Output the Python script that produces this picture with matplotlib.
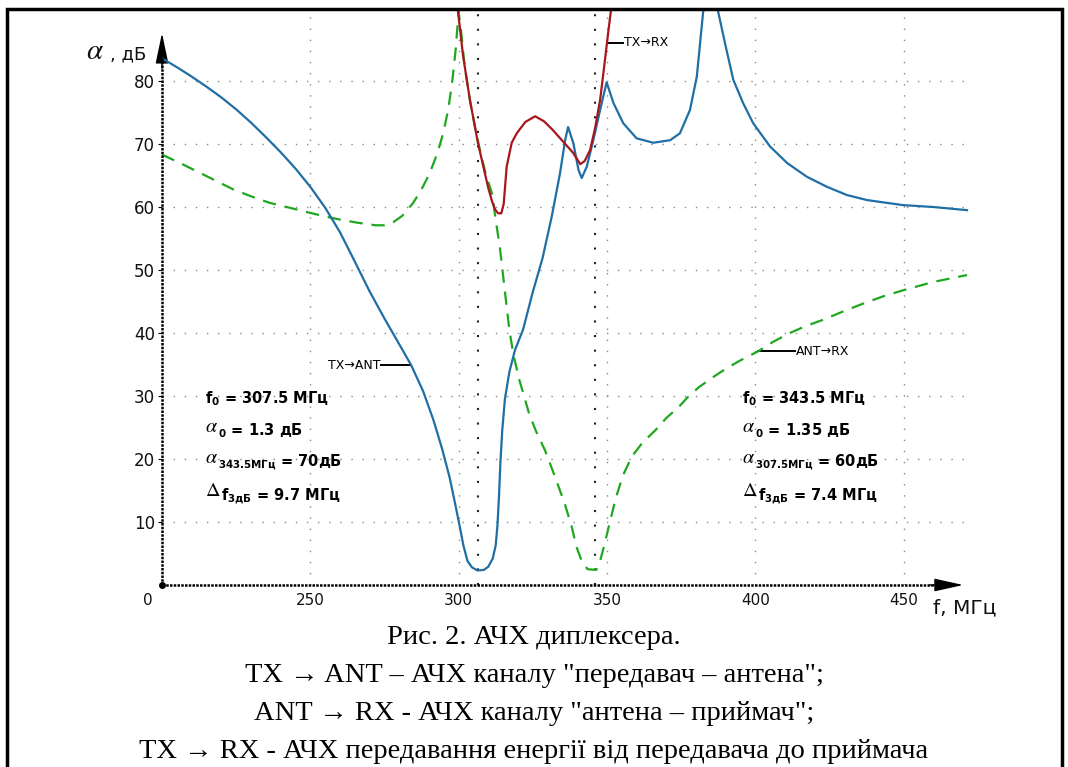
import matplotlib
matplotlib.use('Agg')
import matplotlib.pyplot as plt
from matplotlib.patches import Rectangle

# TX -> ANT channel (blue)
tx_ant_f = [200, 205, 210, 215, 220, 225, 230, 235, 240, 245, 250, 255, 260, 264.4, 270, 275,
            280, 284, 288, 291.5, 294.5, 297, 299, 300.5, 301.6, 303, 304.5, 306.4, 308.5, 310,
            311.5, 312.5, 313.1, 313.6, 314.1, 314.7, 315.6, 317.1, 319, 321.7, 325, 328.3, 331.4,
            334.2, 335.9, 336.9, 338.7, 340.4, 341.5, 343.2, 345.4, 347.7, 349.9, 352.2, 355.5,
            360, 365.6, 371.3, 374.6, 378, 380.3, 382.4, 385, 387.5, 389.8, 392.6, 395.9, 399.3,
            405, 410.7, 417.4, 424.2, 430.9, 437.7, 449.8, 460, 471.4]
tx_ant_a = [83.6, 82.2, 80.7, 79.1, 77.4, 75.5, 73.4, 71.1, 68.7, 66.1, 63.2, 59.9, 56.0, 51.9,
            46.6, 42.3, 38.2, 34.9, 30.8, 26.2, 21.5, 17, 12.5, 9, 6.3, 3.8, 2.8, 2.3, 2.4, 2.9,
            4.2, 6.3, 9.5, 14, 19.5, 24.5, 29.5, 33.8, 37.3, 40.5, 46.5, 51.9, 58.5,
            65.4, 70.6, 72.7, 70.1, 65.9, 64.6, 66.4, 70.6, 75.4, 79.8, 76.5, 73.3,
            70.9, 70.2, 70.6, 71.7, 75.4, 80.7, 90.8, 100, 91, 86, 80.2, 76.5, 73.3,
            69.6, 67, 64.8, 63.2, 61.9, 61.1, 60.3, 60, 59.5]

# ANT -> RX channel (green, dashed)
ant_rx_f = [200, 206, 212, 218, 224, 230, 236, 242, 248, 254, 260, 266, 272, 275, 278, 281,
            284.6, 287.5, 290.3, 292.8, 294.8, 296.5, 297.8, 299, 300, 300.8, 302, 303.8, 305.5,
            307.2, 309, 311.2, 314, 315.5, 317.1, 318.5, 320.5, 323.7, 326, 329.1, 332, 335.7,
            338, 339.7, 341.5, 343.5, 346.4, 347.5, 349, 351, 353.1, 355.5, 358.4, 362, 366.4,
            370, 374.3, 377, 381, 385.8, 390, 394.4, 401, 406, 411.7, 417, 422.9, 429, 436, 443,
            450, 460, 471.4]
ant_rx_a = [68.3, 67.0, 65.6, 64.2, 62.8, 61.7, 60.7, 60.0, 59.3, 58.6, 58.0, 57.5, 57.1, 57.1,
            57.6, 58.6, 60.6, 62.8, 65.4, 68.5, 71.7, 75.5, 79.7, 85, 91, 88, 82.5, 77, 72.8,
            69, 65.5, 62.2, 53.2, 47, 40.5, 36.5, 32.5, 27.3, 24.5, 21.4, 17.8, 13,
            9.5, 6.1, 3.8, 2.5, 2.4, 3.5, 6.1, 10, 14, 17.5, 20.4, 22.6, 24.6,
            26.5, 28.3, 29.7, 31.4, 33, 34.3, 35.5, 37.1, 38.6, 40, 41.1, 42.1, 43.3, 44.6, 45.8,
            46.8, 48.1, 49.2]

# TX -> RX leakage (red)
tx_rx_f = [299.8, 301.5, 303.8, 306.5, 308.3, 309.9, 311.2, 312.3, 313.3, 314.4, 315.2, 316.2,
           317.9, 319.6, 322.5, 325.8, 328.8, 331.8, 335, 338.6, 341, 342.5, 344.3, 346,
           347.7, 349, 350.4, 351.3, 352]
tx_rx_a = [91, 84, 77, 70.2, 66.5, 63.2, 61, 59.6, 59, 59, 60.5, 66.4,
           70.2, 71.7, 73.5, 74.4, 73.6, 72.2, 70.5, 68.6, 66.8, 67.3, 69, 72.5,
           77, 82, 87.6, 91, 94]

x_ticks = [250, 300, 350, 400, 450]
y_ticks = [10, 20, 30, 40, 50, 60, 70, 80]
f0_marks = [306.5, 346]

left_block = ['307.5 МГц', '1.3 дБ', '343.5МГц', '70дБ', '9.7 МГц']
right_block = ['343.5 МГц', '1.35 дБ', '307.5МГц', '60дБ', '7.4 МГц']

caption = ['Рис. 2. АЧХ диплексера.',
           'TX → ANT – АЧХ каналу "передавач – антена";',
           'ANT → RX - АЧХ каналу "антена – приймач";',
           'TX → RX - АЧХ передавання енергії від передавача до приймача']

W, H = 1068, 767
BLUE = '#1f6fa6'
GREEN = '#1fa81f'
RED = '#a8161c'


def fx(px):
    return px / W


def fy(py):
    return 1 - py / H


fig = plt.figure(figsize=(W / 100, H / 100), dpi=100)
ax = fig.add_axes([fx(162), fy(585), (970 - 162) / W, (585 - 10) / H])
ax.set_xlim(200, 472.4)
ax.set_ylim(0, 91.27)
for s in ax.spines.values():
    s.set_visible(False)

ax.set_xticks(x_ticks)
ax.set_yticks(y_ticks)
ax.tick_params(axis='x', length=0, labelsize=11, pad=6, labelcolor='#111')
ax.tick_params(axis='y', length=3, labelsize=12, pad=2, labelcolor='#111')
ax.grid(True, color='#888888', lw=1, ls=(0, (1, 7)))
for f in f0_marks:
    ax.axvline(f, color='#222222', lw=1.5, ls=(0, (1, 6)), zorder=1)

# axes with arrow heads
ax.plot([200, 466], [0, 0], color='black', lw=1.8, ls=(0, (1, 0.5)), clip_on=False, zorder=4)
ax.plot([200, 200], [0, 85], color='black', lw=1.8, ls=(0, (1, 0.5)), clip_on=False, zorder=4)
ax.annotate('', xy=(470.1, 0), xytext=(459, 0), annotation_clip=False,
            arrowprops=dict(arrowstyle='-|>,head_length=1.8,head_width=0.4', color='black',
                            lw=1, shrinkA=0, shrinkB=0))
ax.annotate('', xy=(200, 87.6), xytext=(200, 82), annotation_clip=False,
            arrowprops=dict(arrowstyle='-|>,head_length=1.9,head_width=0.4', color='black',
                            lw=1, shrinkA=0, shrinkB=0))
ax.plot([200], [0], 'o', color='black', ms=4, clip_on=False, zorder=5)
ax.text(197, -1.2, '0', ha='right', va='top', fontsize=11, color='#111')

ax.plot(ant_rx_f, ant_rx_a, color=GREEN, lw=1.6, ls=(0, (6, 4)), zorder=3)
ax.plot(tx_ant_f, tx_ant_a, color=BLUE, lw=1.6, zorder=3)
ax.plot(tx_rx_f, tx_rx_a, color=RED, lw=1.6, zorder=3)

# curve labels with leader lines
ax.plot([273.8, 283.9], [34.9, 34.9], color='black', lw=1.4)
ax.text(273.6, 34.9, 'TX→ANT', ha='right', va='center', fontsize=9)
ax.plot([401, 413.5], [37.1, 37.1], color='black', lw=1.4)
ax.text(413.7, 37.1, 'ANT→RX', ha='left', va='center', fontsize=9)
ax.plot([350.4, 355.4], [86.1, 86.1], color='black', lw=1.4)
ax.text(355.6, 86.1, 'TX→RX', ha='left', va='center', fontsize=9)


def param_block(x, vals):
    fs = 10.5
    ys = [28.85, 24.35, 19.35, 14.05]
    ax.text(x, ys[0], r'$\mathbf{f}_{\mathbf{0}}$ = ' + vals[0], fontsize=fs, fontweight='bold',
            math_fontfamily='dejavusans', va='baseline')
    a1 = ax.text(x, ys[1], r'$\alpha$', fontsize=fs + 4, math_fontfamily='stix', va='baseline')
    ax.annotate(r'$_{\mathbf{0}}$ = ' + vals[1], xy=(1, 0), xycoords=a1, fontsize=fs,
                fontweight='bold', math_fontfamily='dejavusans', va='baseline')
    a2 = ax.text(x, ys[2], r'$\alpha$', fontsize=fs + 4, math_fontfamily='stix', va='baseline')
    ax.annotate(r'$_{\mathbf{' + vals[2] + '}}$ = ' + vals[3], xy=(1, 0), xycoords=a2,
                fontsize=fs, fontweight='bold', math_fontfamily='dejavusans', va='baseline')
    d = ax.text(x, ys[3], r'$\Delta$', fontsize=fs + 4, math_fontfamily='stix', va='baseline')
    ax.annotate(r'$\mathbf{f}_{\mathbf{3дБ}}$ = ' + vals[4], xy=(1, 0), xycoords=d,
                fontsize=fs, fontweight='bold', math_fontfamily='dejavusans', va='baseline')


param_block(214.5, left_block)
param_block(395.6, right_block)

# axis titles
fig.text(fx(86), fy(59), r'$\alpha$', fontsize=21, math_fontfamily='stix', va='baseline',
         color='#111')
fig.text(fx(110), fy(59), ', дБ', fontsize=13, va='baseline', color='#111')
fig.text(fx(933), fy(613), 'f, МГц', fontsize=14.5, va='baseline', color='#111')

# caption
for i, line in enumerate(caption):
    fig.text(0.5, fy(637 + i * 38.3), line, ha='center', va='center', fontsize=20.5,
             family='Liberation Serif')

fig.patches.append(Rectangle((fx(7), -0.01), fx(1062) - fx(7), fy(9) + 0.01,
                             transform=fig.transFigure, fill=False, lw=2.5, ec='black'))

fig.savefig('out.png', dpi=100)
